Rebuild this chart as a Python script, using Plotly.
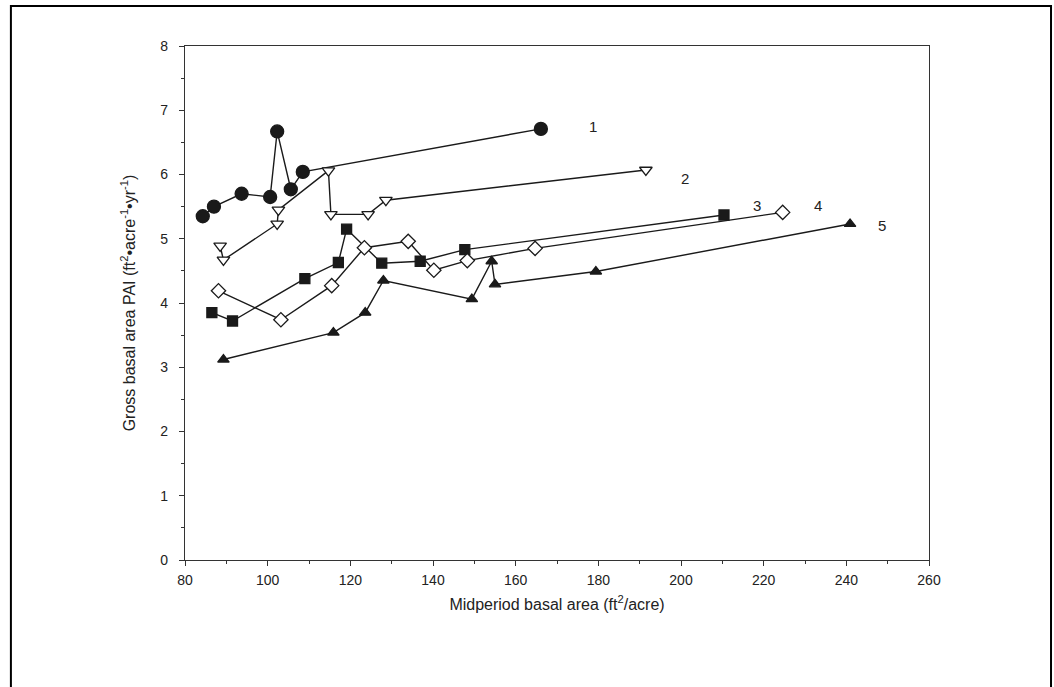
import plotly.graph_objects as go

# Series data (Midperiod basal area, Gross basal area PAI)
s1_x = [84.3, 87.0, 93.7, 100.6, 102.3, 105.6, 108.5, 166.1]
s1_y = [5.35, 5.50, 5.70, 5.65, 6.67, 5.77, 6.04, 6.71]

s2_x = [88.5, 89.3, 102.3, 102.6, 114.7, 115.3, 124.3, 128.6, 191.5]
s2_y = [4.89, 4.67, 5.23, 5.45, 6.06, 5.38, 5.38, 5.60, 6.07]

s3_x = [86.5, 91.5, 109.0, 117.1, 119.1, 127.6, 136.9, 147.7, 210.4]
s3_y = [3.85, 3.72, 4.38, 4.63, 5.15, 4.62, 4.65, 4.83, 5.37]

s4_x = [88.1, 103.2, 115.5, 123.4, 134.0, 140.2, 148.3, 164.7, 224.6]
s4_y = [4.19, 3.74, 4.27, 4.86, 4.96, 4.51, 4.66, 4.85, 5.41]

s5_x = [89.3, 115.9, 123.6, 128.0, 149.4, 154.2, 155.0, 179.4, 240.9]
s5_y = [3.12, 3.54, 3.85, 4.35, 4.06, 4.65, 4.29, 4.49, 5.23]

label_text = ["1", "2", "3", "4", "5"]
label_x = [178.7, 201.0, 218.3, 233.2, 248.6]
label_y = [6.74, 5.94, 5.52, 5.52, 5.21]

x_ticks = [80, 100, 120, 140, 160, 180, 200, 220, 240, 260]
y_ticks = [0, 1, 2, 3, 4, 5, 6, 7, 8]

FONT = "Liberation Sans, Arial"
LINE = "#1a1a1a"
series = [
    (s1_x, s1_y, "circle", LINE, 13),
    (s2_x, s2_y, "triangle-down", "white", 11),
    (s3_x, s3_y, "square", LINE, 10),
    (s4_x, s4_y, "diamond", "white", 11),
    (s5_x, s5_y, "triangle-up", LINE, 10),
]

fig = go.Figure()
for xs, ys, sym, fill, sz in series:
    fig.add_trace(go.Scatter(
        x=xs, y=ys, mode="lines+markers",
        line=dict(color=LINE, width=1.4),
        marker=dict(symbol=sym, size=sz, color=fill,
                    line=dict(color=LINE, width=1.3)),
        showlegend=False, cliponaxis=False,
    ))

for t, lx, ly in zip(label_text, label_x, label_y):
    fig.add_annotation(x=lx, y=ly, text=t, showarrow=False,
                       font=dict(size=15, color="#222", family=FONT))

# outer frame
fig.add_shape(type="rect", xref="paper", yref="paper",
              x0=-0.234, x1=1.164, y0=-0.30, y1=1.078,
              line=dict(color="black", width=2), layer="below")

axis_common = dict(
    showline=True, linecolor="#333", linewidth=1.3, mirror=True,
    ticks="outside", ticklen=5, tickwidth=1, tickcolor="#333",
    showgrid=False, zeroline=False,
    tickfont=dict(size=14, color="#222", family=FONT),
)

fig.update_xaxes(
    range=[80, 260], tickvals=x_ticks, ticktext=[str(v) for v in x_ticks],
    minor=dict(dtick=10, ticks="outside", ticklen=3, tickcolor="#333", showgrid=False),
    ticklabelstandoff=2,
    title=dict(text="Midperiod basal area (ft<sup>2</sup>/acre)",
               font=dict(size=16, color="#222", family=FONT), standoff=11),
    **axis_common,
)
fig.update_yaxes(
    range=[0, 8], tickvals=y_ticks, ticktext=[str(v) for v in y_ticks],
    minor=dict(dtick=0.5, ticks="outside", ticklen=3, tickcolor="#333", showgrid=False),
    ticklabelstandoff=8,
    title=dict(text="Gross basal area PAI (ft<sup>2</sup>•acre<sup>-1</sup>•yr<sup>-1</sup>)",
               font=dict(size=16, color="#222", family=FONT), standoff=20),
    **axis_common,
)

fig.update_layout(
    width=1054, height=687,
    margin=dict(l=185, r=125, t=46, b=127),
    plot_bgcolor="white", paper_bgcolor="white",
)

fig.write_html("out.html")
